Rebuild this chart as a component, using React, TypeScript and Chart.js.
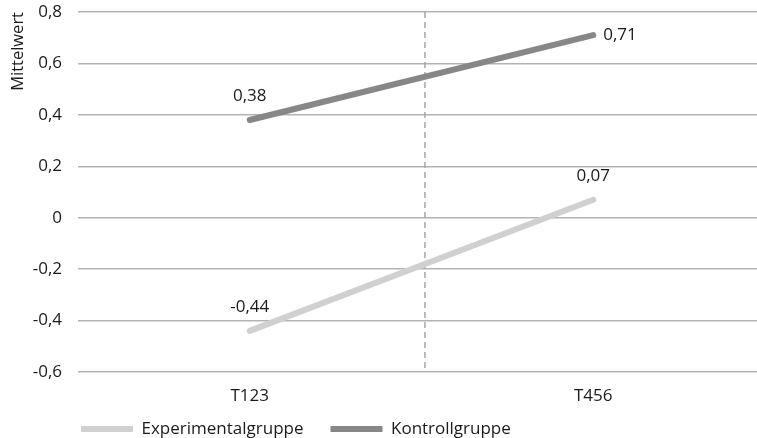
import React, { useEffect, useRef } from "react";
import { Chart, registerables } from "chart.js";

Chart.register(...registerables);

const categories = ["T123", "T456"];
const experimentalValues = [-0.44, 0.07];
const kontrollValues = [0.38, 0.71];
const seriesNames = ["Experimentalgruppe", "Kontrollgruppe"];
const yMin = -0.6;
const yMax = 0.8;
const yStep = 0.2;
const dividerPosition = 0.51;

const FONT = "'Open Sans', 'Noto Sans', sans-serif";
const FS = 17;
const LEGEND_PAD = 27;

const fmt = (v: number) => {
  const r = Math.round(v * 100) / 100;
  if (r === 0) return "0";
  return String(r).replace(".", ",");
};

const valueLabels = {
  id: "valueLabels",
  afterDatasetsDraw(chart: any) {
    const ctx = chart.ctx;
    ctx.save();
    ctx.font = `${FS}px ${FONT}`;
    ctx.fillStyle = "#1a1a1a";
    chart.data.datasets.forEach((ds: any, i: number) => {
      const meta = chart.getDatasetMeta(i);
      meta.data.forEach((pt: any, j: number) => {
        const pos = (ds.labelPos || [])[j] || "top";
        const text = fmt(ds.data[j]);
        ctx.textBaseline = "middle";
        if (pos === "right") {
          ctx.textAlign = "left";
          ctx.fillText(text, pt.x + 10, pt.y);
        } else {
          ctx.textAlign = "center";
          ctx.fillText(text, pt.x, pt.y - 24);
        }
      });
    });
    ctx.restore();
  },
};

const divider = {
  id: "divider",
  beforeDatasetsDraw(chart: any) {
    const { ctx, chartArea, scales } = chart;
    const x = scales.x.getPixelForValue(dividerPosition);
    ctx.save();
    ctx.strokeStyle = "#a6a6a6";
    ctx.lineWidth = 1.5;
    ctx.setLineDash([6, 4]);
    ctx.beginPath();
    ctx.moveTo(x, chartArea.top);
    ctx.lineTo(x, chartArea.bottom);
    ctx.stroke();
    ctx.restore();
  },
};

const legendPlace = {
  id: "legendPlace",
  afterLayout(chart: any) {
    const lg = chart.legend;
    if (!lg) return;
    const h = lg.bottom - lg.top;
    lg.left = chart.chartArea.left + 3 - LEGEND_PAD;
    lg.top = chart.chartArea.bottom + 57 - LEGEND_PAD - FS / 2;
    lg.bottom = lg.top + h;
  },
};

export default function App() {
  const ref = useRef<HTMLCanvasElement>(null);
  useEffect(() => {
    if (!ref.current) return;
    const chart = new Chart(ref.current, {
      type: "line",
      data: {
        labels: categories,
        datasets: [
          {
            label: seriesNames[0],
            data: experimentalValues,
            borderColor: "#d0d0d0",
            backgroundColor: "#d0d0d0",
            borderWidth: 6,
            borderCapStyle: "round",
            pointRadius: 0,
            labelPos: ["top", "top"],
          } as any,
          {
            label: seriesNames[1],
            data: kontrollValues,
            borderColor: "#878787",
            backgroundColor: "#878787",
            borderWidth: 6,
            borderCapStyle: "round",
            pointRadius: 0,
            labelPos: ["top", "right"],
          } as any,
        ],
      },
      options: {
        animation: false,
        responsive: false,
        layout: { padding: { top: 12, right: 0, left: 0, bottom: 0 } },
        scales: {
          x: {
            offset: true,
            grid: { display: false, drawTicks: false },
            border: { display: false },
            ticks: { color: "#1a1a1a", padding: 14, font: { family: FONT, size: FS } },
            afterFit: (s: any) => {
              s.height = 40;
            },
          },
          y: {
            min: yMin,
            max: yMax,
            grid: { color: "#b3b3b3", lineWidth: 1.5, drawTicks: false },
            border: { display: false },
            ticks: {
              stepSize: yStep,
              color: "#1a1a1a",
              padding: 16,
              font: { family: FONT, size: FS },
              callback: (v: any) => fmt(Number(v)),
            },
            title: {
              display: true,
              text: "Mittelwert",
              align: "end",
              color: "#1a1a1a",
              font: { family: FONT, size: 16.5 },
              padding: { top: 8, bottom: 0 },
            },
            afterFit: (s: any) => {
              s.width = 78;
              s.paddingTop = 0;
              s.paddingBottom = 0;
            },
          },
        },
        plugins: {
          legend: {
            position: "bottom",
            align: "start",
            labels: {
              usePointStyle: true,
              pointStyle: "line",
              pointStyleWidth: 52,
              padding: LEGEND_PAD,
              color: "#1a1a1a",
              font: { family: FONT, size: FS },
            },
          },
          tooltip: { enabled: false },
        },
      },
      plugins: [valueLabels, divider, legendPlace],
    });
    return () => chart.destroy();
  }, []);
  return (
    <div style={{ position: "absolute", left: 0, top: 0, width: 757, height: 438, overflow: "hidden", background: "#fff" }}>
      <canvas ref={ref} width={765} height={466} style={{ display: "block" }} />
    </div>
  );
}
